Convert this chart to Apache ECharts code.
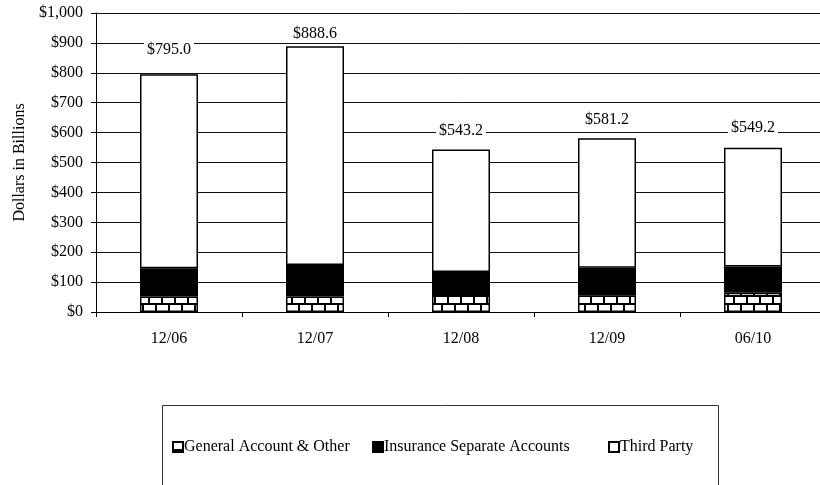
<!DOCTYPE html>
<html>
<head>
<meta charset="utf-8">
<script src="https://cdn.jsdelivr.net/npm/echarts@6/dist/echarts.min.js"></script>
<style>
  html, body { margin: 0; padding: 0; background: #fff; }
  #chart { width: 820px; height: 485px; }
</style>
</head>
<body>
<div id="chart"></div>
<script>
// Assets under management, $ billions
const periods = ['12/06', '12/07', '12/08', '12/09', '06/10'];
const generalAccount = [52, 52, 60, 56, 64];
const insuranceSeparate = [94, 105, 74, 92, 88];
const thirdParty = [649.0, 731.6, 409.2, 433.2, 397.2];
const yTicks = [0, 100, 200, 300, 400, 500, 600, 700, 800, 900, 1000];

// vertical lift of each total label above its bar (px, to label centre)
const labelLift = [24, 13, 19, 18, 20];

const FONT = "'Liberation Serif', 'Times New Roman', serif";

// brick hatch used for the general account segment
function brickPattern() {
  const c = document.createElement('canvas');
  c.width = 26; c.height = 16;
  const g = c.getContext('2d');
  g.fillStyle = '#000';
  g.fillRect(0, 0, 26, 16);
  g.fillStyle = '#fff';
  g.fillRect(1, 1, 11, 6);
  g.fillRect(14, 1, 11, 6);
  g.fillRect(-6, 9, 11, 6);
  g.fillRect(7, 9, 11, 6);
  g.fillRect(20, 9, 11, 6);
  return c;
}

const totals = periods.map((_, i) => generalAccount[i] + insuranceSeparate[i] + thirdParty[i]);

const chart = echarts.init(document.getElementById('chart'), null, { renderer: 'canvas' });

const segStyle = { borderColor: '#000', borderWidth: 1.5 };

chart.setOption({
  animation: false,
  backgroundColor: '#fff',
  textStyle: { fontFamily: FONT, color: '#000' },
  grid: { left: 96, top: 13, right: -6, bottom: 173, outerBoundsMode: 'none', containLabel: false },
  xAxis: {
    type: 'category',
    data: periods,
    axisLine: { lineStyle: { color: '#000', width: 1 } },
    axisTick: { show: true, length: 5, lineStyle: { color: '#000' } },
    axisLabel: { color: '#000', fontSize: 16, fontFamily: FONT, margin: 19 }
  },
  yAxis: {
    type: 'value',
    min: yTicks[0],
    max: yTicks[yTicks.length - 1],
    interval: yTicks[1] - yTicks[0],
    name: 'Dollars in Billions',
    nameLocation: 'middle',
    nameGap: 66,
    nameTextStyle: { color: '#000', fontSize: 16, fontFamily: FONT },
    axisLine: { show: true, lineStyle: { color: '#000', width: 1 } },
    axisTick: { show: true, length: 5, lineStyle: { color: '#000' } },
    axisLabel: {
      color: '#000', fontSize: 16, fontFamily: FONT, margin: 13,
      formatter: v => '$' + v.toLocaleString('en-US')
    },
    splitLine: { show: true, lineStyle: { color: '#111', width: 1 } }
  },
  legend: [
    { name: 'General Account & Other', left: 172 },
    { name: 'Insurance Separate Accounts', left: 372 },
    { name: 'Third Party', left: 608 }
  ].map(l => ({
    data: [l.name],
    left: l.left,
    top: 439,
    icon: 'rect',
    itemWidth: 10,
    itemHeight: 10,
    itemGap: 0,
    padding: 0,
    textStyle: { color: '#000', fontSize: 16, fontFamily: FONT, padding: [0, 0, 0, -4] }
  })),
  graphic: [{
    type: 'rect',
    shape: { x: 162.5, y: 405.5, width: 556, height: 90 },
    style: { fill: 'none', stroke: '#333', lineWidth: 1 },
    silent: true
  }],
  series: [
    {
      name: 'General Account & Other',
      type: 'bar',
      stack: 'aum',
      barWidth: 58,
      data: generalAccount,
      itemStyle: Object.assign({ color: { image: brickPattern(), repeat: 'repeat' } }, segStyle)
    },
    {
      name: 'Insurance Separate Accounts',
      type: 'bar',
      stack: 'aum',
      barWidth: 58,
      data: insuranceSeparate,
      itemStyle: Object.assign({ color: '#000' }, segStyle)
    },
    {
      name: 'Third Party',
      type: 'bar',
      stack: 'aum',
      barWidth: 58,
      data: thirdParty.map((v, i) => ({ value: v, label: { distance: labelLift[i] - 9 } })),
      itemStyle: Object.assign({ color: '#fff' }, segStyle),
      label: {
        show: true,
        position: 'top',
        color: '#000',
        fontSize: 16,
        fontFamily: FONT,
        lineHeight: 18,
        backgroundColor: '#fff',
        padding: [0, 3],
        formatter: p => '$' + totals[p.dataIndex].toFixed(1)
      }
    }
  ]
});
</script>
</body>
</html>
